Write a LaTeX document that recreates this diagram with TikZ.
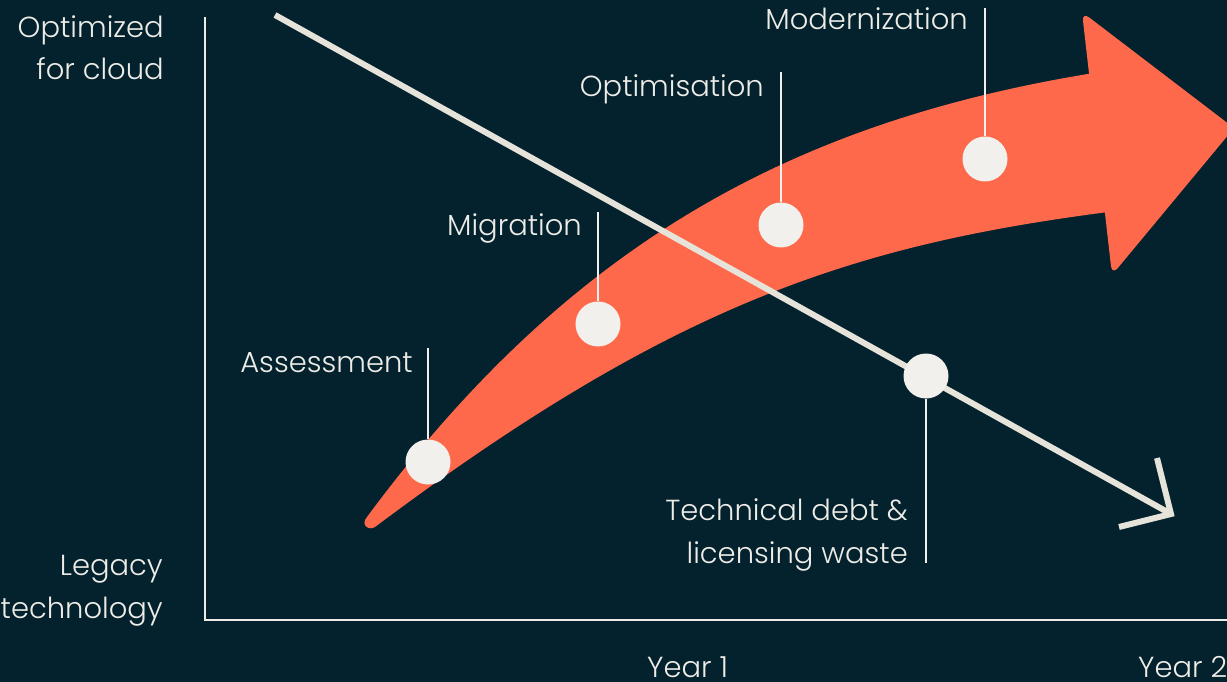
\documentclass[tikz,border=0pt]{standalone}
\usepackage{fontspec}
\IfFontExistsTF{Poppins Light}{\setmainfont{Poppins Light}}{\setmainfont{Poppins}}
\definecolor{bg}{HTML}{03222D}
\definecolor{coral}{HTML}{FF694B}
\definecolor{cream}{HTML}{E6E3DA}
\definecolor{dotc}{HTML}{F2F0EC}
\definecolor{txt}{HTML}{EEECE7}
\tikzset{
  lbl/.style={text=txt, inner sep=0pt, font=\fontsize{29}{42.5}\selectfont},
  axisline/.style={draw=txt, line width=2.8pt},
  leader/.style={draw=dotc, line width=2pt},
  trend/.style={draw=cream, line width=6pt},
  dotnode/.style={circle, fill=dotc, minimum size=45pt, inner sep=0pt},
}
\begin{document}
\begin{tikzpicture}[x=1pt,y=-1pt]
\useasboundingbox (0,0) rectangle (1227,682);
\fill[bg] (0,0) rectangle (1227,682);
% axes
\coordinate (ytop) at (205,17);
\coordinate (orig) at (205,620);
\coordinate (xend) at (1230,620);
\draw[axisline] (ytop) -- (orig) -- (xend);
% coral arrow band
\fill[coral] (367,517) .. controls (567,247) and (790,121) .. (1100,72)
  -- (1116,211) .. controls (856,244) and (675,302) .. (375,527)
  .. controls (369,531) and (360,525) .. (367,517) -- cycle;
\fill[coral, rounded corners=9pt] (1082,12) -- (1234,128) -- (1112,275) -- cycle;
% trend line
\coordinate (ls) at (275,15);
\coordinate (le) at (1171,514);
\coordinate (b1) at (1157,458);
\coordinate (b2) at (1119,527);
\draw[trend] (ls) -- (le);
\draw[trend, miter limit=10] (b1) -- (le) -- (b2);
% dots
\node[dotnode] (dA) at (428,462) {};
\node[dotnode] (dM) at (598,324) {};
\node[dotnode] (dO) at (781,225) {};
\node[dotnode] (dZ) at (985,159) {};
\node[dotnode] (dT) at (926,376) {};
% leaders
\coordinate (tA) at (428,348);
\coordinate (tM) at (598,212);
\coordinate (tO) at (781,72);
\coordinate (tZ) at (985,8);
\coordinate (tT) at (926,563);
\draw[leader] (tA) -- (dA.north);
\draw[leader] (tM) -- (dM.north);
\draw[leader] (tO) -- (dO.north);
\draw[leader] (tZ) -- (dZ.north);
\draw[leader] (dT.south) -- (tT);
% labels
\node[lbl, anchor=base east] (lA) at (413,372) {Assessment};
\node[lbl, anchor=base east] (lM) at (582,235) {Migration};
\node[lbl, anchor=base east] (lO) at (764,97) {Optimisation};
\node[lbl, anchor=base east] (lZ) at (968,30) {Modernization};
\node[lbl, anchor=base east, align=right] (lT) at (908,563) {Technical debt \&\\licensing waste};
\node[lbl, anchor=base east, align=right] (yT) at (164,80) {Optimized\\for cloud};
\node[lbl, anchor=base east, align=right] (yB) at (163,618) {Legacy\\technology};
\node[lbl, anchor=base west] (x1) at (647,677) {Year 1};
\node[lbl, anchor=base west] (x2) at (1138,677) {Year 2};
\end{tikzpicture}
\end{document}
